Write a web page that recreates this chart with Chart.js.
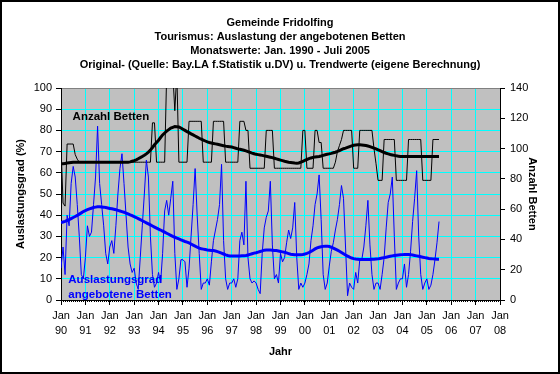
<!DOCTYPE html>
<html>
<head>
<meta charset="utf-8">
<script src="https://cdn.jsdelivr.net/npm/chart.js@4/dist/chart.umd.min.js"></script>
<style>
  html, body { margin: 0; padding: 0; background: #fff; }
  #wrap { width: 560px; height: 374px; position: relative; }
</style>
</head>
<body>
<div id="wrap"><canvas id="c" width="560" height="374"></canvas></div>
<script>
// ---- Text ----
const titleLines = [
  'Gemeinde Fridolfing',
  'Tourismus: Auslastung der angebotenen Betten',
  'Monatswerte: Jan. 1990 - Juli 2005',
  'Original- (Quelle: Bay.LA f.Statistik u.DV) u. Trendwerte (eigene Berechnung)'
];
const yearLabels = ['90','91','92','93','94','95','96','97','98','99','00','01','02','03','04','05','06','07','08'];
const leftTitle = 'Auslastungsgrad (%)';
const rightTitle = 'Anzahl Betten';
const xTitle = 'Jahr';

// ---- Data: monthly, Jan 1990 .. Jul 2005 ----
// Auslastungsgrad angebotene Betten (%), left axis
const auslastung = [
  15, 25, 12, 40, 35, 55, 63, 58, 45, 30, 12, 10,   // 1990
  20, 35, 30, 32, 45, 58, 82, 55, 45, 35, 22, 17,   // 1991
  25, 28, 22, 35, 50, 62, 69, 55, 40, 25, 17, 13,   // 1992
  15,  8,  5, 20, 35, 50, 66, 58, 30, 12,  6,  8,   // 1993
  13,  8, 22, 42, 47, 40, 48, 56, 22,  5, 10, 19,   // 1994
  19, 18,  6, 15, 30, 45, 62, 40, 22,  5,  8,  8,   // 1995
  10,  7, 18, 28, 33, 38, 45, 64, 28, 10,  5,  8,   // 1996
   8, 10,  6, 10, 28, 32, 26, 56, 20, 10,  8,  9,   // 1997
   8,  5,  3, 22, 34, 39, 42, 56, 26, 10, 12,  8,   // 1998
  22, 18, 20, 27, 33, 29, 34, 46, 20,  5,  8,  6,   // 1999
   8, 12, 17, 28, 35, 45, 50, 59, 38, 12,  5,  8,   // 2000
  16, 23, 27, 33, 38, 45, 54, 48, 25,  2,  8,  6,   // 2001
   5, 13,  8, 19, 19, 25, 35, 47, 26, 12,  5,  8,   // 2002
   8,  5, 12, 20, 34, 46, 50, 58, 30,  5,  8, 10,   // 2003
  10, 17,  6, 12, 23, 37, 48, 61, 30, 12,  5,  8,   // 2004
  10,  5,  7, 12, 19, 27, 37                        // 2005
];
// Trend Auslastungsgrad (%), left axis
const auslastungTrend = [
  36.5, 36.8, 37.1, 37.5, 37.9, 38.4, 38.9, 39.4, 39.9, 40.5, 41.1, 41.7,
  42.2, 42.6, 43.0, 43.3, 43.6, 43.8, 44.0, 44.0, 43.9, 43.8, 43.6, 43.4,
  43.2, 43.0, 42.8, 42.6, 42.3, 42.0, 41.7, 41.4, 41.0, 40.6, 40.2, 39.8,
  39.3, 38.9, 38.4, 37.9, 37.4, 36.9, 36.4, 35.9, 35.4, 34.9, 34.4, 33.9,
  33.4, 33.0, 32.5, 32.0, 31.5, 31.0, 30.5, 30.0, 29.6, 29.2, 28.8, 28.4,
  28.0, 27.6, 27.3, 26.9, 26.4, 25.9, 25.4, 24.9, 24.5, 24.2, 24.0, 23.8,
  23.6, 23.5, 23.4, 23.3, 23.1, 22.8, 22.5, 22.1, 21.7, 21.3, 21.0, 20.8,
  20.7, 20.7, 20.7, 20.8, 20.8, 20.9, 20.9, 21.0, 21.2, 21.5, 21.8, 22.1,
  22.3, 22.6, 22.9, 23.2, 23.5, 23.6, 23.6, 23.6, 23.5, 23.4, 23.3, 23.1,
  22.9, 22.7, 22.5, 22.2, 21.9, 21.6, 21.5, 21.4, 21.4, 21.4, 21.4, 21.5,
  21.7, 22.0, 22.4, 22.9, 23.5, 24.1, 24.6, 24.9, 25.1, 25.3, 25.4, 25.4,
  25.2, 24.9, 24.5, 24.0, 23.5, 23.0, 22.4, 21.8, 21.2, 20.7, 20.2, 19.8,
  19.5, 19.3, 19.2, 19.1, 19.1, 19.1, 19.1, 19.1, 19.1, 19.2, 19.2, 19.3,
  19.4, 19.6, 19.8, 20.0, 20.2, 20.4, 20.6, 20.8, 21.0, 21.1, 21.2, 21.3,
  21.4, 21.5, 21.5, 21.5, 21.4, 21.2, 21.0, 20.8, 20.6, 20.4, 20.2, 20.0,
  19.8, 19.6, 19.5, 19.4, 19.3, 19.2, 19.2
];
// Anzahl Betten, right axis
const betten = [
  102, 64, 62, 103, 103, 103, 103, 96, 93, 91, 91, 91,   // 1990
   91, 91, 91, 91, 91, 91, 91, 91, 91, 91, 91, 91,       // 1991
   91, 91, 91, 91, 91, 91, 91, 91, 91, 91, 91, 91,       // 1992
   91, 91, 91, 91, 91, 91, 91, 91, 91, 117, 117, 91,     // 1993
   91, 91, 91, 91, 150, 150, 150, 150, 125, 150, 91, 91, // 1994
   91, 91, 91, 118, 118, 118, 118, 118, 118, 118, 91, 91,// 1995
   91, 91, 91, 118, 118, 118, 118, 118, 118, 91, 91, 91, // 1996
   91, 91, 91, 91, 118, 118, 118, 112, 112, 87, 87, 87,  // 1997
   87, 87, 87, 87, 87, 112, 112, 112, 112, 87, 87, 87,   // 1998
   87, 87, 87, 87, 87, 87, 87, 87, 87, 87, 87, 112,      // 1999
  112, 87, 87, 87, 87, 112, 112, 104, 104, 87, 87, 87,   // 2000
   87, 87, 87, 91, 98, 102, 106, 112, 112, 112, 112, 112,// 2001
   87, 87, 87, 112, 112, 112, 112, 112, 112, 112, 100, 90,// 2002
   79, 79, 79, 106, 106, 106, 106, 106, 106, 79, 79, 79, // 2003
   79, 79, 79, 106, 106, 106, 106, 106, 106, 106, 79, 79,// 2004
   79, 79, 79, 106, 106, 106, 106                        // 2005
];
// Trend Anzahl Betten, right axis
const bettenTrend = [
   90.0, 90.0, 90.2, 90.4, 90.6, 90.8, 91.0, 91.0, 91.0, 91.0, 91.0, 91.0,
   91.0, 91.0, 91.0, 91.0, 91.0, 91.0, 91.0, 91.0, 91.0, 91.0, 91.0, 91.0,
   91.0, 91.0, 91.0, 91.0, 91.0, 91.0, 91.0, 91.0, 91.0, 91.0, 91.2, 91.6,
   92.0, 92.6, 93.3, 94.0, 94.8, 95.6, 96.5, 97.7, 99.0, 100.7, 102.5, 104.0,
  105.5, 107.3, 109.0, 110.3, 111.5, 112.5, 113.5, 114.0, 114.5, 114.4, 114.3, 113.6,
  112.8, 112.0, 111.2, 110.5, 109.7, 109.0, 108.3, 107.6, 106.8, 106.2, 105.6, 105.0,
  104.4, 104.0, 103.7, 103.4, 103.1, 102.8, 102.5, 102.2, 101.9, 101.6, 101.4, 101.2,
  101.0, 100.6, 100.2,  99.8,  99.5,  99.2,  98.9,  98.5,  98.0,  97.5,  97.0,  96.6,
   96.2,  96.0,  95.8,  95.5,  95.2,  94.9,  94.6,  94.3,  94.0,  93.6,  93.2,  92.8,
   92.4,  92.0,  91.6,  91.3,  91.0,  90.8,  90.6,  90.4,  90.3,  90.5,  91.0,  91.6,
   92.2,  92.8,  93.3,  93.8,  94.2,  94.4,  94.6,  94.8,  95.1,  95.5,  95.9,  96.2,
   96.5,  96.8,  97.2,  97.6,  98.1,  98.7,  99.3,  99.9, 100.3, 100.8, 101.3, 101.8,
  102.2, 102.4, 102.5, 102.5, 102.4, 102.2, 102.0, 101.7, 101.3, 100.8, 100.3,  99.8,
   99.2,  98.6,  98.0,  97.4,  96.9,  96.5,  96.1,  95.8,  95.5,  95.2,  95.0,  94.8,
   94.7,  94.7,  94.7,  94.7,  94.7,  94.7,  94.7,  94.7,  94.7,  94.7,  94.7,  94.7,
   94.7,  94.7,  94.7,  94.7,  94.7,  94.7,  94.7
];

// ---- Chart ----
const FONT = '"Liberation Sans", Arial, Helvetica, sans-serif';
Chart.defaults.font.family = FONT;
Chart.defaults.font.size = 11;
Chart.defaults.color = '#000';

const toXY = arr => arr.map((v, i) => ({ x: i, y: v }));

const bgPlugin = {
  id: 'bg',
  beforeDraw(chart) {
    const { ctx, chartArea: a } = chart;
    ctx.save();
    ctx.fillStyle = '#fff';
    ctx.fillRect(0, 0, chart.width, chart.height);
    ctx.fillStyle = '#C0C0C0';
    ctx.fillRect(a.left, a.top, a.right - a.left, a.bottom - a.top);
    ctx.restore();
  },
  afterDraw(chart) {
    const { ctx } = chart;
    const xs = chart.scales.x, ys = chart.scales.y;
    ctx.save();
    // minor month ticks on the x axis
    ctx.fillStyle = '#000';
    for (let m = 0; m <= 216; m++) {
      const px = Math.round(xs.getPixelForValue(m));
      ctx.fillRect(px, ys.bottom, 1, 2);
    }
    // in-plot labels
    ctx.textBaseline = 'middle';
    ctx.textAlign = 'left';
    ctx.font = 'bold 11.5px ' + FONT;
    ctx.fillStyle = '#000';
    ctx.fillText('Anzahl Betten', xs.getPixelForValue(5.7), ys.getPixelForValue(86.6));
    ctx.fillStyle = '#0000FF';
    ctx.fillText('Auslastungsgrad', xs.getPixelForValue(3.6), ys.getPixelForValue(9.4));
    ctx.fillText('angebotene Betten', xs.getPixelForValue(3.6), ys.getPixelForValue(2.3));
    // outer frame
    ctx.strokeStyle = '#000';
    ctx.lineWidth = 2;
    ctx.strokeRect(1, 1, chart.width - 2, chart.height - 2);
    ctx.restore();
  }
};

new Chart(document.getElementById('c'), {
  type: 'line',
  data: {
    datasets: [
      { label: 'Auslastungsgrad Trend', data: toXY(auslastungTrend), yAxisID: 'y',
        borderColor: '#0000FF', borderWidth: 3, pointRadius: 0, order: 0 },
      { label: 'Betten Trend', data: toXY(bettenTrend), yAxisID: 'y2',
        borderColor: '#000000', borderWidth: 3, pointRadius: 0, order: 1 },
      { label: 'Auslastungsgrad', data: toXY(auslastung), yAxisID: 'y',
        borderColor: '#0000FF', borderWidth: 1, pointRadius: 0, order: 2 },
      { label: 'Anzahl Betten', data: toXY(betten), yAxisID: 'y2',
        borderColor: '#000000', borderWidth: 1, pointRadius: 0, order: 3 }
    ]
  },
  options: {
    responsive: false,
    animation: false,
    devicePixelRatio: 1,
    layout: { padding: 0 },
    elements: { line: { tension: 0, borderJoinStyle: 'miter' } },
    plugins: {
      legend: { display: false },
      tooltip: { enabled: false },
      title: {
        display: true,
        text: titleLines,
        color: '#000',
        font: { family: FONT, size: 11, weight: 'bold', lineHeight: '14px' },
        padding: { top: 16, bottom: 16 }
      }
    },
    scales: {
      x: {
        type: 'linear', min: 0, max: 216,
        afterFit: s => { s.height = 74; },
        ticks: {
          stepSize: 12, autoSkip: false, maxRotation: 0, padding: 3, color: '#000',
          font: { family: FONT, size: 11, lineHeight: '15px' },
          callback: v => (v % 12 === 0 ? ['Jan', yearLabels[v / 12]] : '')
        },
        grid: { color: '#00FFFF', lineWidth: 1, tickColor: '#000', tickLength: 5 },
        border: { color: '#000', width: 1 },
        title: { display: true, text: xTitle, color: '#000',
          font: { family: FONT, size: 11, weight: 'bold' }, padding: { top: 0, bottom: 15 } }
      },
      y: {
        position: 'left', min: 0, max: 100,
        afterFit: s => { s.width = 61; },
        ticks: { stepSize: 10, padding: 4, color: '#000', font: { family: FONT, size: 11 } },
        grid: {
          color: c => (c.tick && c.tick.value === 100 ? '#808080' : '#00FFFF'),
          lineWidth: 1, tickColor: '#000', tickLength: 5
        },
        border: { color: '#000', width: 1 },
        title: { display: true, text: leftTitle, color: '#000',
          font: { family: FONT, size: 11, weight: 'bold' }, padding: { top: 14, bottom: 0 } }
      },
      y2: {
        position: 'right', min: 0, max: 140,
        afterFit: s => { s.width = 60; },
        ticks: { stepSize: 10, padding: 5, color: '#000', font: { family: FONT, size: 11 } },
        grid: { drawOnChartArea: false, tickColor: '#000', tickLength: 5 },
        border: { color: '#000', width: 1 },
        title: { display: true, text: rightTitle, color: '#000',
          font: { family: FONT, size: 11, weight: 'bold' }, padding: { top: 21, bottom: 0 } }
      }
    }
  },
  plugins: [bgPlugin]
});
</script>
</body>
</html>
